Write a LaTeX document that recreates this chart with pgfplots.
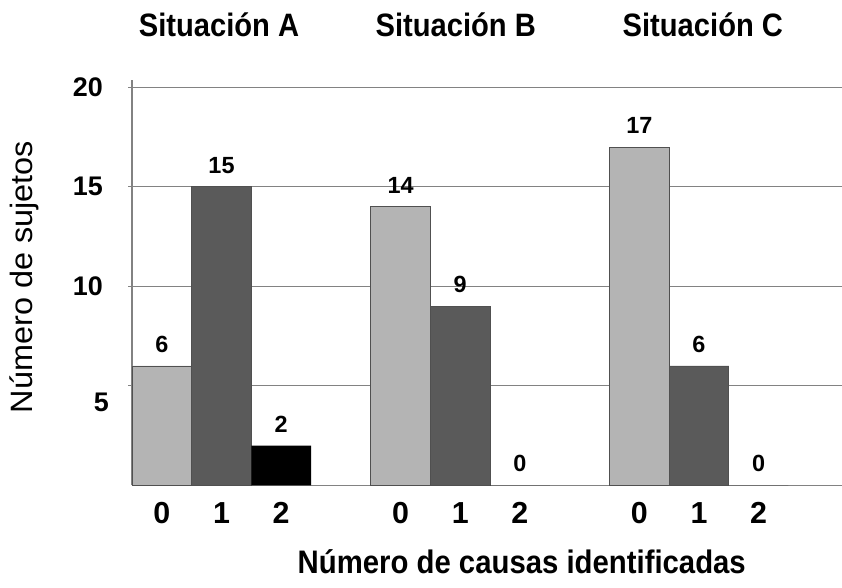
\documentclass[border=0pt]{standalone}
\usepackage{pgfplots}
\pgfplotsset{compat=1.18}
\usepackage{fontspec}
\setmainfont{Liberation Sans}
\newfontfamily\narrowbold[FakeStretch=0.9]{Liberation Sans Bold}
\newfontfamily\widefont[FakeStretch=1.05]{Liberation Sans}
\definecolor{lightbar}{RGB}{180,180,180}
\definecolor{darkbar}{RGB}{90,90,90}
\definecolor{gridc}{RGB}{130,130,130}
\definecolor{edgec}{RGB}{80,80,80}
\begin{document}
\begin{tikzpicture}
\useasboundingbox (0,0) rectangle (842bp,588bp);
\begin{axis}[
  at={(132bp,102.7bp)}, anchor=south west,
  scale only axis, width=710bp, height=405.3bp,
  xmin=-0.5, xmax=11.397, ymin=0, ymax=20.37,
  clip=false,
  axis x line*=bottom, axis y line*=left,
  axis line style={gridc, line width=1.2bp, -},
  /pgf/number format/assume math mode=true,
  ytick={10,15,20},
  extra y ticks={5},
  extra y tick style={yticklabel style={xshift=6bp, yshift=-17bp}},
  ymajorgrids,
  major grid style={gridc, line width=1.2bp},
  tick align=outside,
  major tick length=4bp,
  ytick style={gridc, line width=1.2bp},
  xtick style={draw=none},
  xtick={0,1,2,4,5,6,8,9,10},
  xticklabels={0,1,2,0,1,2,0,1,2},
  yticklabel style={font=\fontsize{27}{27}\selectfont\bfseries, anchor=east, inner sep=0pt, xshift=-25bp},
  xticklabel style={font=\fontsize{30.5}{30.5}\selectfont\bfseries, anchor=north, inner sep=0pt, yshift=-13bp},
  xlabel={Número de causas identificadas},
  ylabel={Número de sujetos},
  xlabel style={font=\fontsize{32.7}{32.7}\narrowbold, at={(axis description cs:0.549,-0.189)}, anchor=center},
  ylabel style={font=\fontsize{31}{31}\widefont, at={(axis description cs:-0.1521,0.514)}, anchor=center},
  nodes near coords,
  every node near coord/.append style={font=\fontsize{23.5}{23.5}\selectfont\bfseries, anchor=south, inner sep=0pt, yshift=13bp, text=black},
]
\addplot[ybar, bar width=1, bar shift=0pt, fill=lightbar, draw=edgec, line width=0.8bp] coordinates {(0,6) (4,14) (8,17)};
\addplot[ybar, bar width=1, bar shift=0pt, fill=darkbar, draw=edgec, line width=0.8bp] coordinates {(1,15) (5,9) (9,6)};
\addplot[ybar, bar width=1, bar shift=0pt, fill=black, draw=none] coordinates {(2,2) (6,0) (10,0)};
\node[font=\fontsize{32.5}{32.5}\narrowbold] at (axis description cs:0.1225,1.1357) {Situación A};
\node[font=\fontsize{32.5}{32.5}\narrowbold] at (axis description cs:0.456,1.1357) {Situación B};
\node[font=\fontsize{32.5}{32.5}\narrowbold] at (axis description cs:0.804,1.1357) {Situación C};
\end{axis}
\end{tikzpicture}
\end{document}
